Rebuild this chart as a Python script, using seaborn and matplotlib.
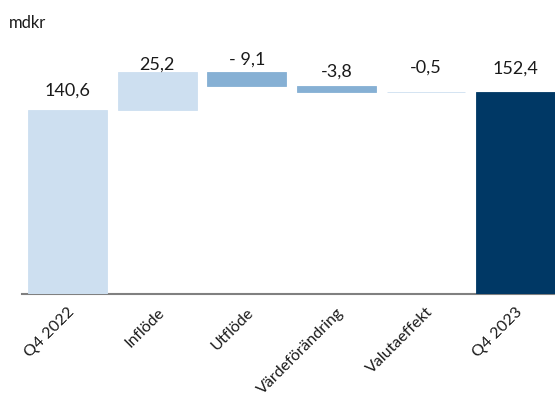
import matplotlib
matplotlib.use("Agg")
import matplotlib.pyplot as plt
import seaborn as sns
import pandas as pd

categories = ["Q4 2022", "Inflöde", "Utflöde", "Värdeförändring", "Valutaeffekt", "Q4 2023"]
values = [140.6, 25.2, -9.1, -3.8, -0.5, 152.4]
is_total = [True, False, False, False, False, True]
value_labels = ["140,6", "25,2", "- 9,1", "-3,8", "-0,5", "152,4"]
unit_label = "mdkr"

colors = ["#cddff0", "#cddff0", "#86b0d4", "#86b0d4", "#cddff0", "#003865"]

# waterfall geometry derived from values
bottoms, tops = [], []
running = 0.0
for v, tot in zip(values, is_total):
    if tot:
        bottoms.append(0.0)
        tops.append(v)
        running = v
    else:
        lo, hi = sorted([running, running + v])
        bottoms.append(lo)
        tops.append(hi)
        running += v

df = pd.DataFrame({"cat": categories, "height": [t - b for t, b in zip(tops, bottoms)]})

sns.set_theme(style="white")
plt.rcParams["font.family"] = ["Lato", "DejaVu Sans"]

W, H = 555, 401
fig = plt.figure(figsize=(W / 100, H / 100), dpi=100)
ax = fig.add_axes([22 / W, 1 - 294 / H, 1 - 22 / W, (294 - 40) / H])

sns.barplot(data=df, x="cat", y="height", ax=ax, width=0.88, color=colors[0],
            saturation=1, linewidth=0)
for p, b, c in zip(ax.patches, bottoms, colors):
    p.set_y(b)
    p.set_facecolor(c)
    p.set_edgecolor(c)
    p.set_linewidth(0.6)

ax.set_ylim(20, 186.7)
ax.set_xlim(-0.508, 5.44)

label_offsets_px = [15, 2, 7, 9, 19, 19]
for i, (t, lab, off) in enumerate(zip(tops, value_labels, label_offsets_px)):
    ax.annotate(lab, (i, t), xytext=(0, off * 0.72), textcoords="offset points",
                ha="center", va="baseline", fontsize=13, color="#1a1a1a")

ax.set_xlabel("")
ax.set_ylabel("")
ax.set_yticks([])
ax.tick_params(axis="x", length=0, pad=8)
for lbl in ax.get_xticklabels():
    lbl.set_rotation(45)
    lbl.set_ha("right")
    lbl.set_va("top")
    lbl.set_rotation_mode("anchor")
    lbl.set_fontsize(11.5)
    lbl.set_color("#1a1a1a")

for s in ["top", "right", "left"]:
    ax.spines[s].set_visible(False)
ax.spines["bottom"].set_color("#808080")
ax.spines["bottom"].set_linewidth(1.5)
ax.spines["bottom"].set_zorder(0.5)

fig.text(9 / W, 1 - 28 / H, unit_label, fontsize=12, va="baseline", ha="left",
         color="#1a1a1a")

fig.savefig("out.png", dpi=100)
